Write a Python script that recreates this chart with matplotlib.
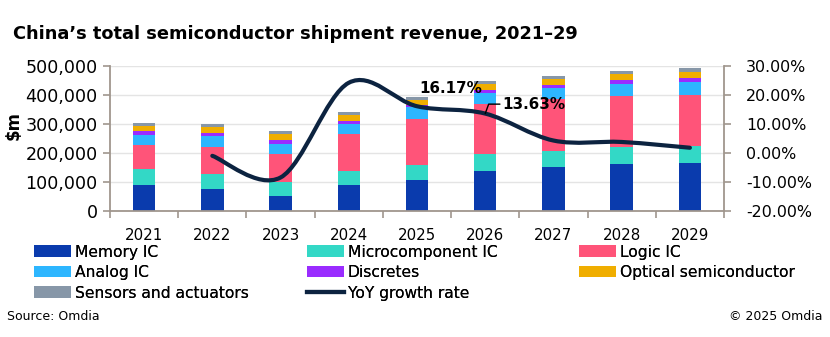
import numpy as np
import matplotlib
matplotlib.use("Agg")
import matplotlib.pyplot as plt
from matplotlib.path import Path
from matplotlib.patches import PathPatch, Patch
from matplotlib.lines import Line2D
from matplotlib.ticker import FuncFormatter, MultipleLocator

plt.rcParams['font.family'] = ['DejaVu Sans']

# shipment revenue by product group, $m
years = ["2021", "2022", "2023", "2024", "2025", "2026", "2027", "2028", "2029"]
memory_ic = [89000, 76200, 50800, 89000, 106200, 138600, 150100, 161700, 165100]
micro_ic = [56500, 52000, 47400, 49700, 53200, 57700, 57800, 58900, 60100]
logic_ic = [82000, 91200, 99300, 128000, 159300, 172100, 177800, 177800, 175500]
analog_ic = [34500, 39300, 34600, 33500, 39300, 38100, 40400, 41600, 43900]
discretes = [12800, 10300, 13900, 11500, 8000, 10400, 10400, 11500, 13800]
optical = [18500, 19700, 18500, 18500, 18400, 20800, 20800, 23100, 23100]
sensors = [9200, 11500, 11500, 11500, 9200, 10400, 10400, 10400, 11500]

# YoY growth of the total, % (from 2022 on)
yoy_years = years[1:]
yoy = [-1.0, -8.5, 24.3, 16.17, 13.63, 4.3, 3.8, 1.8]

series = [
    ("Memory IC", memory_ic, "#0A3BAD"),
    ("Microcomponent IC", micro_ic, "#33D8C6"),
    ("Logic IC", logic_ic, "#FF5479"),
    ("Analog IC", analog_ic, "#2DB6FF"),
    ("Discretes", discretes, "#9A2CFF"),
    ("Optical semiconductor", optical, "#F0AE00"),
    ("Sensors and actuators", sensors, "#8797A8"),
]
line_color = "#0C2340"
spine_color = "#A0968D"

W, H = 830, 337
fig = plt.figure(figsize=(W / 100, H / 100), dpi=100)
ax = fig.add_axes([110 / W, 1 - 210.7 / H, 614 / W, 144.4 / H])

x = np.arange(len(years))
bottom = np.zeros(len(years))
for name, vals, col in series:
    ax.bar(x, vals, width=0.33, bottom=bottom, color=col, label=name, zorder=2)
    bottom += np.array(vals)

ax.set_xlim(-0.5, len(years) - 0.5)
ax.set_ylim(0, 500000)
ax.yaxis.set_major_locator(MultipleLocator(100000))
ax.yaxis.set_major_formatter(FuncFormatter(lambda v, p: f"{int(v):,}"))
ax.set_axisbelow(True)
ax.yaxis.grid(True, color="#E4E4E4", linewidth=1.0)

ax.set_xticks(x)
ax.set_xticklabels(years)
ax.set_xticks(np.arange(-0.5, len(years), 1), minor=True)
ax.tick_params(axis="x", which="major", length=0, pad=12.5, labelsize=10.8)
ax.tick_params(axis="x", which="minor", length=5, width=1.2, color=spine_color)
ax.tick_params(axis="y", length=5, width=1.2, color=spine_color, pad=4, labelsize=12.6)

for s in ["top", "right"]:
    ax.spines[s].set_visible(False)
for s in ["left", "bottom"]:
    ax.spines[s].set_color(spine_color)
    ax.spines[s].set_linewidth(1.3)

# growth rate on the secondary axis, drawn as a smoothed curve
ax2 = ax.twinx()
ax2.set_ylim(-20, 30)
ax2.yaxis.set_major_locator(MultipleLocator(10))
ax2.yaxis.set_major_formatter(FuncFormatter(lambda v, p: f"{v:.2f}%"))
ax2.tick_params(axis="y", length=5, width=1.2, color=spine_color, pad=11, labelsize=11.4)
for s in ["top", "left", "bottom"]:
    ax2.spines[s].set_visible(False)
ax2.spines["right"].set_color(spine_color)
ax2.spines["right"].set_linewidth(1.3)

xs = np.array([years.index(y) for y in yoy_years], dtype=float)
pts = np.column_stack([xs, yoy])
verts = [pts[0]]
codes = [Path.MOVETO]
n = len(pts)
for i in range(n - 1):
    p0 = pts[max(i - 1, 0)]
    p1 = pts[i]
    p2 = pts[i + 1]
    p3 = pts[min(i + 2, n - 1)]
    verts += [p1 + (p2 - p0) / 6, p2 - (p3 - p1) / 6, p2]
    codes += [Path.CURVE4] * 3
ax2.add_patch(PathPatch(Path(verts, codes), fill=False, edgecolor=line_color,
                        linewidth=3, capstyle="round", zorder=3))

i25 = yoy_years.index("2025")
ax2.annotate(f"{yoy[i25]:.2f}%", xy=(xs[i25], yoy[i25]), xytext=(24.6, 12.7),
             textcoords="offset points", ha="center", va="center",
             fontsize=10.9, fontweight="bold")
i26 = yoy_years.index("2026")
ax2.annotate(f"{yoy[i26]:.2f}%", xy=(xs[i26], yoy[i26]), xytext=(12.6, 6.8),
             textcoords="offset points", ha="left", va="center",
             fontsize=10.9, fontweight="bold",
             arrowprops=dict(arrowstyle="-", color="black", lw=1,
                             connectionstyle="angle,angleA=0,angleB=70,rad=0",
                             relpos=(0, 0.5), shrinkA=0, shrinkB=0))

fig.text(13 / W, 1 - 34 / H, "China\u2019s total semiconductor shipment revenue, 2021\u201329",
         fontsize=12.8, fontweight="bold", ha="left", va="center")
fig.text(14 / W, 1 - 125 / H, "$m", rotation=90, fontsize=12, fontweight="bold",
         ha="center", va="center")

# legend in three fixed-width columns
handles = {name: Patch(facecolor=col) for name, _, col in series}
handles["YoY growth rate"] = Line2D([], [], color=line_color, lw=3)
columns = [
    ["Memory IC", "Analog IC", "Sensors and actuators"],
    ["Microcomponent IC", "Discretes", "YoY growth rate"],
    ["Logic IC", "Optical semiconductor"],
]
col_x = [34, 306.7, 579.3]
for cx, names in zip(col_x, columns):
    leg = fig.legend([handles[nm] for nm in names], names, loc="upper left",
                     bbox_to_anchor=(cx / W, 1 - 244.5 / H), frameon=False,
                     fontsize=11.2, handlelength=2.38, handleheight=0.77,
                     handletextpad=0.25, labelspacing=0.36, borderpad=0,
                     borderaxespad=0)
    fig.add_artist(leg)

fig.text(7 / W, 1 - 316 / H, "Source: Omdia", fontsize=9, ha="left", va="center")
fig.text(822 / W, 1 - 316 / H, "\u00a9 2025 Omdia", fontsize=9, ha="right", va="center")

fig.savefig("out.png", dpi=100)
